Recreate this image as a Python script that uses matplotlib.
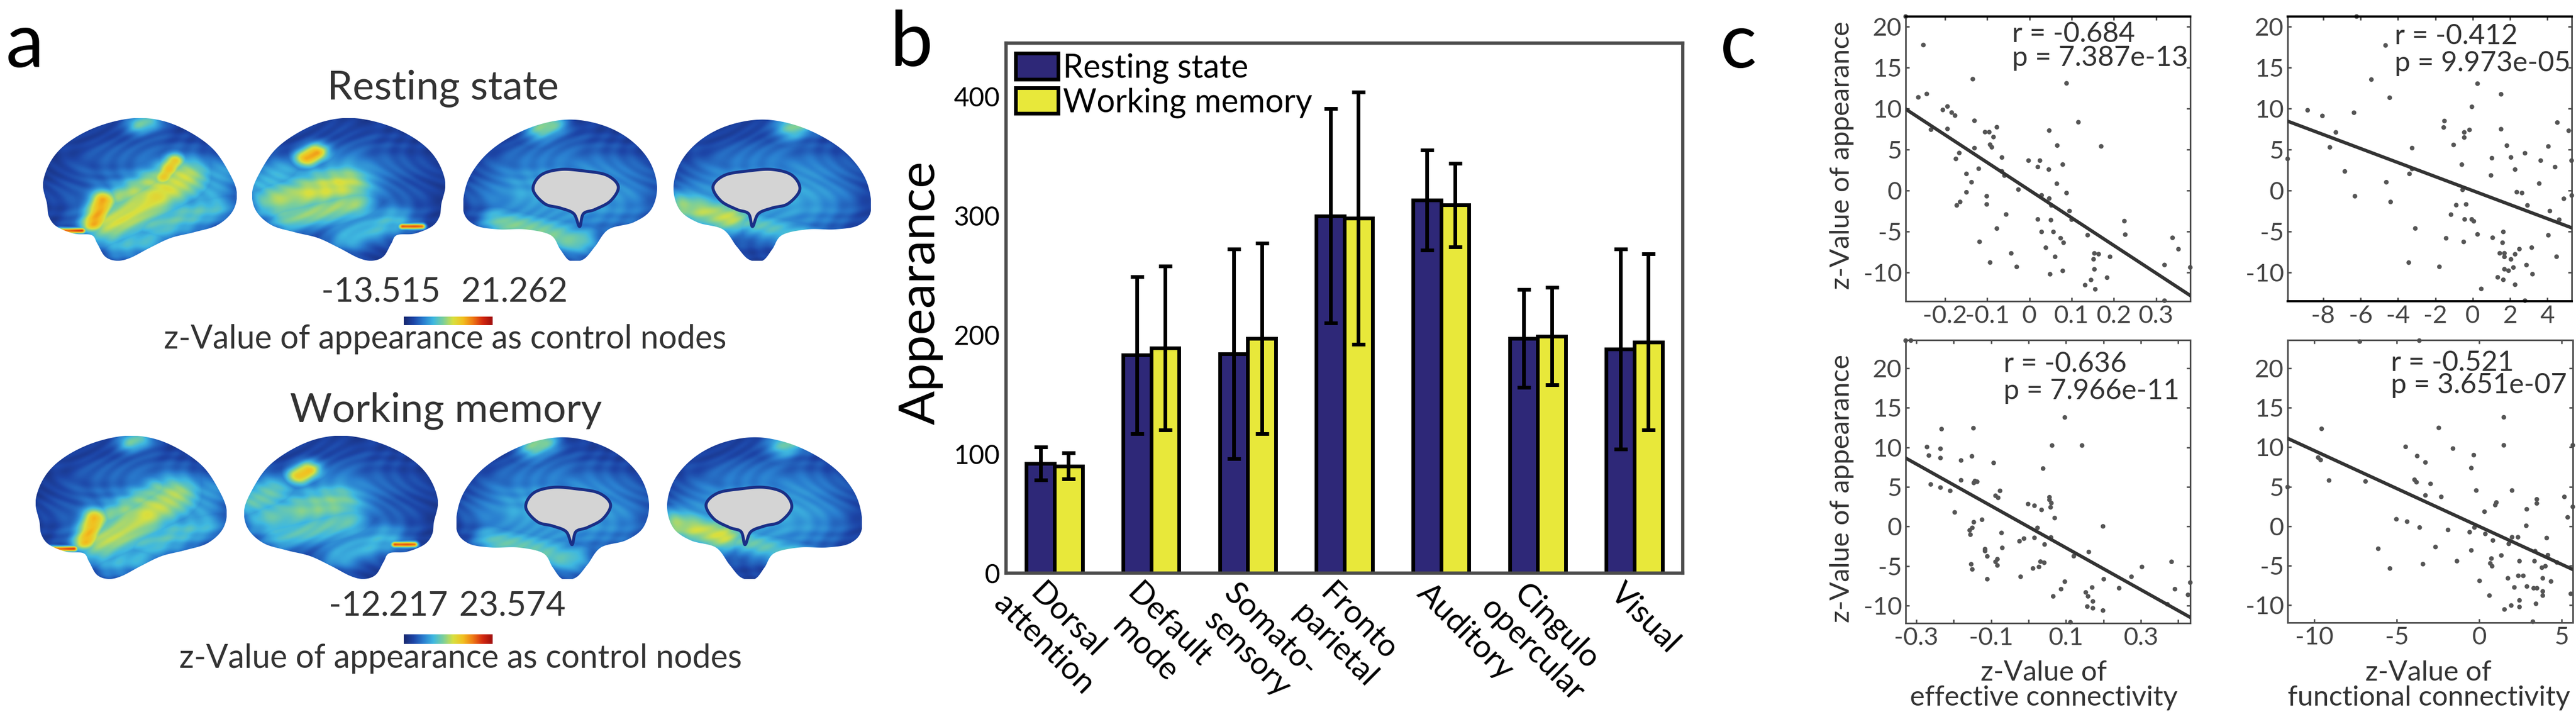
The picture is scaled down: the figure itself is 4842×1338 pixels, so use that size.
import numpy as np
import matplotlib
matplotlib.use('Agg')
import matplotlib.pyplot as plt
from matplotlib.patches import Polygon
from matplotlib.colors import LinearSegmentedColormap
from matplotlib.transforms import ScaledTranslation

plt.rcParams['font.family'] = ['Lato', 'DejaVu Sans']
plt.rcParams['axes.unicode_minus'] = False

W, H, DPI = 4842, 1338, 100

# ---------------- data: panel b ----------------
categories = ["Dorsal\nattention", "Default\nmode", "Somato-\nsensory", "Fronto\nparietal",
              "Auditory", "Cingulo\nopercular", "Visual"]
rs_mean = [92, 183, 184, 300, 313, 197, 188]
rs_err = [14, 66, 88, 90, 42, 41, 84]
wm_mean = [90, 189, 197, 298, 309, 199, 194]
wm_err = [11, 69, 80, 106, 35, 41, 74]
b_yticks = [0, 100, 200, 300, 400]

# ---------------- data: panel a colour ranges ----------------
rs_range = (-13.515, 21.262)
wm_range = (-12.217, 23.574)

# ---------------- data: panel c ----------------
rs_ec = [(-0.293, 21.26), (-0.251, 17.78), (-0.134, 13.61), (0.088, 13.10), (-0.263, 11.39),
         (-0.243, 11.80), (-0.205, 9.85), (-0.194, 10.27), (-0.184, 9.53), (-0.176, 9.16),
         (-0.130, 8.53), (0.116, 8.35), (-0.233, 7.44), (-0.194, 7.53), (-0.077, 7.74),
         (-0.105, 7.14), (-0.095, 7.14), (-0.085, 6.54), (0.047, 7.33), (-0.093, 5.61),
         (-0.089, 5.29), (-0.130, 5.19), (0.066, 5.50), (0.170, 5.40), (-0.166, 4.59),
         (-0.174, 3.87), (-0.065, 4.04), (-0.002, 3.66), (0.025, 3.66), (0.020, 2.88),
         (0.046, 2.57), (0.079, 3.18), (-0.120, 2.67), (-0.065, 2.34), (-0.059, 1.83),
         (-0.149, 2.04), (-0.137, 1.02), (0.065, 0.84), (-0.026, 0.12), (-0.149, -0.21),
         (-0.101, -0.69), (0.088, -0.30), (0.029, -0.58), (0.047, -0.97), (0.052, -1.81),
         (-0.172, -1.81), (-0.164, -1.39), (-0.101, -1.69), (0.095, -2.50), (0.100, -3.55),
         (-0.055, -2.92), (0.020, -3.52), (0.051, -3.61), (0.225, -3.73), (-0.077, -4.64),
         (0.029, -5.05), (0.057, -5.05), (0.227, -5.38), (0.138, -5.45), (0.074, -5.82),
         (0.081, -6.37), (-0.118, -6.26), (0.339, -5.77), (0.039, -6.98), (0.353, -7.16),
         (-0.043, -7.67), (0.154, -7.67), (0.164, -7.77), (0.061, -8.09), (0.191, -8.09),
         (0.152, -8.39), (-0.093, -8.79), (0.320, -9.09), (-0.030, -9.32), (0.381, -9.39),
         (0.154, -9.62), (0.079, -9.81), (0.049, -10.22), (0.184, -10.64), (0.146, -10.92),
         (0.132, -11.55), (0.156, -12.06), (0.320, -13.45)]
rs_fc = [(-6.21, 21.26), (-4.66, 17.73), (-5.42, 13.56), (0.26, 13.06), (1.52, 11.76),
         (-4.44, 11.34), (-8.83, 9.81), (-8.04, 9.12), (-6.35, 9.51), (-0.04, 10.23),
         (-1.51, 8.50), (-1.55, 7.71), (4.53, 8.31), (-7.32, 7.11), (-0.45, 7.11),
         (-0.17, 7.41), (1.52, 7.50), (5.14, 7.31), (-0.45, 6.48), (-7.64, 5.28),
         (-3.24, 5.19), (-1.02, 5.58), (1.83, 5.49), (4.05, 5.39), (2.80, 4.56),
         (-9.90, 3.87), (1.03, 3.96), (2.05, 4.05), (3.64, 3.66), (5.29, 3.66),
         (-0.58, 3.17), (2.27, 2.57), (4.41, 2.87), (-6.84, 2.34), (-3.24, 2.64),
         (-3.38, 2.04), (0.98, 1.85), (-4.62, 1.02), (3.56, 0.86), (-0.54, 0.09),
         (2.36, -0.19), (2.64, -0.30), (-6.30, -0.69), (5.30, -0.60), (4.88, -1.00),
         (-4.39, -1.39), (-0.88, -1.78), (-0.35, -1.69), (2.93, -1.81), (-1.16, -2.94),
         (4.13, -2.50), (-0.43, -3.52), (-0.05, -3.52), (0.06, -3.75), (4.63, -3.56),
         (-3.07, -4.63), (1.64, -5.05), (0.26, -5.35), (4.05, -5.46), (-1.42, -5.83),
         (1.07, -5.76), (-0.48, -6.27), (1.60, -6.37), (2.50, -7.15), (3.16, -6.97),
         (1.45, -7.66), (1.70, -7.66), (1.70, -8.10), (2.27, -7.78), (2.05, -8.40),
         (4.49, -8.08), (-3.42, -8.80), (-1.78, -9.31), (2.88, -9.10), (2.18, -9.40),
         (1.70, -9.61), (1.92, -9.79), (3.20, -10.21), (1.34, -10.60), (1.64, -10.90),
         (2.27, -11.50), (0.46, -12.01), (2.80, -13.45)]
wm_ec = [(-0.328, 23.50), (-0.314, 23.51), (0.097, 13.79), (-0.232, 12.32), (-0.147, 12.43),
         (-0.271, 10.05), (-0.235, 9.83), (0.063, 10.24), (0.143, 10.24), (-0.266, 8.97),
         (-0.235, 8.66), (-0.151, 8.88), (-0.180, 8.35), (-0.093, 8.04), (0.039, 7.33),
         (-0.261, 5.32), (-0.235, 4.92), (-0.180, 5.85), (-0.146, 5.51), (-0.143, 5.75),
         (-0.137, 5.66), (-0.209, 4.51), (-0.076, 4.51), (-0.088, 3.89), (-0.081, 3.63),
         (0.056, 3.70), (0.056, 3.37), (0.061, 2.96), (0.059, 2.43), (-0.001, 2.84),
         (0.016, 2.63), (0.035, 2.10), (-0.197, 1.79), (0.070, 1.07), (-0.124, 0.86),
         (-0.146, 0.55), (0.199, 0.02), (0.024, -0.17), (-0.150, -0.17), (-0.157, -0.48),
         (-0.155, -1.03), (-0.072, -0.81), (0.016, -1.43), (-0.012, -1.53), (-0.024, -1.86),
         (0.060, -1.38), (0.043, -2.27), (-0.116, -2.86), (-0.116, -3.10), (-0.070, -2.70),
         (0.161, -3.22), (0.121, -3.75), (-0.110, -3.77), (-0.083, -4.13), (-0.088, -4.46),
         (-0.083, -4.92), (0.032, -4.44), (0.042, -4.58), (-0.153, -4.77), (-0.150, -5.42),
         (0.012, -5.30), (0.028, -5.11), (0.303, -5.11), (0.382, -4.46), (-0.021, -6.35),
         (0.275, -6.35), (-0.110, -6.66), (0.201, -6.66), (0.097, -6.97), (0.170, -7.71),
         (0.242, -7.80), (0.087, -7.92), (0.391, -7.92), (0.432, -7.09), (0.153, -8.33),
         (0.159, -8.83), (0.066, -8.83), (0.426, -8.64), (0.172, -9.47), (0.157, -10.12),
         (0.172, -10.33), (0.199, -10.62), (0.371, -9.83), (0.112, -12.10)]
wm_fc = [(-7.24, 23.38), (-3.63, 23.50), (1.49, 13.79), (-9.55, 12.33), (-2.45, 12.45),
         (1.49, 10.24), (5.67, 10.24), (-4.46, 10.05), (-1.59, 9.83), (-0.33, 9.00),
         (-3.76, 8.88), (-9.76, 8.69), (-9.61, 8.38), (-3.26, 8.07), (-0.48, 7.36),
         (-9.10, 5.79), (-6.89, 5.67), (-3.92, 5.88), (-3.80, 5.57), (-2.95, 5.36),
         (-11.61, 4.95), (-0.18, 4.52), (1.99, 4.52), (-3.26, 3.90), (-2.30, 3.71),
         (5.16, 3.71), (3.49, 3.40), (3.49, 2.88), (1.04, 3.00), (0.97, 2.67),
         (5.67, 2.45), (2.88, 2.14), (0.32, 1.83), (5.36, 1.12), (-5.02, 0.88),
         (-4.37, 0.57), (2.85, 0.05), (-3.61, -0.17), (-0.29, -0.17), (-1.89, -0.48),
         (-0.58, -0.76), (0.37, -0.98), (1.99, -1.40), (2.35, -1.40), (4.09, -1.50),
         (0.83, -1.81), (1.79, -2.24), (-6.12, -2.86), (-2.65, -2.64), (-0.48, -3.07),
         (3.39, -3.17), (1.34, -3.71), (4.16, -3.67), (0.74, -4.10), (-1.35, -4.43),
         (2.44, -4.43), (3.35, -4.43), (4.71, -4.60), (-3.41, -4.81), (0.67, -4.71),
         (0.78, -5.07), (3.80, -5.26), (4.01, -5.07), (-5.41, -5.36), (2.37, -6.29),
         (2.67, -6.29), (0.02, -6.93), (1.74, -6.60), (3.85, -6.60), (4.35, -7.00),
         (2.13, -7.76), (2.89, -7.64), (3.30, -7.86), (3.50, -7.86), (3.85, -8.26),
         (3.85, -8.79), (5.55, -8.57), (0.62, -8.79), (2.44, -9.40), (3.44, -9.83),
         (1.94, -10.05), (2.44, -10.24), (1.53, -10.55), (3.25, -12.10)]
# fitted lines: (slope, intercept)
fit_rs_ec = (-33.8, 0.05)
fit_rs_fc = (-0.857, -0.01)
fit_wm_ec = (-26.5, -0.04)
fit_wm_fc = (-0.961, -0.04)
stats_rs_ec = ("r = -0.684", "p = 7.387e-13")
stats_rs_fc = ("r = -0.412", "p = 9.973e-05")
stats_wm_ec = ("r = -0.636", "p = 7.966e-11")
stats_wm_fc = ("r = -0.521", "p = 3.651e-07")
xticks_ec_top = [-0.2, -0.1, 0, 0.1, 0.2, 0.3]
xticklabels_ec_top = ["-0.2", "-0.1", "0", "0.1", "0.2", "0.3"]
xticks_fc_top = [-8, -6, -4, -2, 0, 2, 4]
xticks_ec_bot = [-0.3, -0.2, -0.1, 0, 0.1, 0.2, 0.3, 0.4]
xticklabels_ec_bot = ["-0.3", "", "-0.1", "", "0.1", "", "0.3", ""]
xticks_fc_bot = [-10, -5, 0, 5]
c_yticks = [-10, -5, 0, 5, 10, 15, 20]

# ---------------- helpers ----------------
fig = plt.figure(figsize=(W / DPI, H / DPI), dpi=DPI)


def rect(x0, y0, x1, y1):
    return [x0 / W, 1 - y1 / H, (x1 - x0) / W, (y1 - y0) / H]


def fpt(x, y):
    return (x / W, 1 - y / H)


TXT = '#333333'

# ---------------- panel a (rendered cortex pictures) ----------------
brain_cmap = LinearSegmentedColormap.from_list(
    'brain', ['#18276e', '#1d46a8', '#2a7fd0', '#3fb8e0', '#7ccf9a', '#d8e040',
              '#f2c020', '#ef7a15', '#d42a10', '#9e0c0c'])

LATERAL = [(0.02, 0.40), (0.00, 0.55), (0.05, 0.72), (0.15, 0.85), (0.30, 0.95), (0.47, 1.00),
           (0.62, 0.98), (0.76, 0.90), (0.88, 0.78), (0.96, 0.62), (1.00, 0.48), (0.98, 0.35),
           (0.90, 0.25), (0.78, 0.20), (0.66, 0.16), (0.55, 0.09), (0.45, 0.02), (0.38, 0.00),
           (0.32, 0.03), (0.28, 0.12), (0.25, 0.18), (0.16, 0.19), (0.07, 0.24), (0.03, 0.31)]
MEDIAL = [(0.00, 0.35), (0.02, 0.55), (0.10, 0.72), (0.22, 0.85), (0.38, 0.95), (0.55, 0.99),
          (0.72, 0.95), (0.86, 0.85), (0.96, 0.70), (1.00, 0.52), (0.97, 0.36), (0.88, 0.27),
          (0.75, 0.22), (0.68, 0.10), (0.62, 0.01), (0.55, 0.00), (0.50, 0.08), (0.45, 0.18),
          (0.32, 0.22), (0.18, 0.22), (0.06, 0.25)]
HOLE = [(0.36, 0.50), (0.40, 0.60), (0.50, 0.64), (0.62, 0.63), (0.74, 0.60), (0.80, 0.52),
        (0.76, 0.42), (0.68, 0.36), (0.62, 0.33), (0.60, 0.24), (0.57, 0.33), (0.50, 0.37),
        (0.42, 0.40)]


def smooth_closed(pts, n=480):
    P = np.asarray(pts, float)
    m = len(P)
    out = []
    t = np.linspace(0, 1, max(n // m, 4), endpoint=False)[:, None]
    for i in range(m):
        p0, p1, p2, p3 = P[(i - 1) % m], P[i], P[(i + 1) % m], P[(i + 2) % m]
        out.append(0.5 * ((2 * p1) + (-p0 + p2) * t + (2 * p0 - 5 * p1 + 4 * p2 - p3) * t ** 2
                          + (-p0 + 3 * p1 - 3 * p2 + p3) * t ** 3))
    return np.vstack(out)


def seg_dist(xx, yy, x0, y0, x1, y1):
    dx, dy = x1 - x0, y1 - y0
    L2 = dx * dx + dy * dy
    t = np.clip(((xx - x0) * dx + (yy - y0) * dy) / L2, 0, 1) if L2 > 0 else 0.0
    return np.hypot(xx - (x0 + t * dx), yy - (y0 + t * dy))


def draw_brain(box, outline, patches, mirror=False, hole=False):
    ax = fig.add_axes(rect(*box))
    ax.set_xlim(0, 1)
    ax.set_ylim(0, 1)
    ax.axis('off')
    pts = smooth_closed(outline)
    if mirror:
        pts[:, 0] = 1 - pts[:, 0]
    yy, xx = np.mgrid[0:1:300j, 0:1:400j]
    shade = 0.19 - 0.11 * (((xx - 0.5) / 0.5) ** 2 + ((yy - 0.5) / 0.5) ** 2)
    gyri = 0.03 * np.sin(34 * xx + 6 * np.sin(11 * yy)) * np.sin(29 * yy + 5 * np.sin(8 * xx))
    bump = np.zeros_like(xx)
    for x0, y0, x1, y1, wd, amp in patches:
        d = seg_dist(xx, yy, x0, y0, x1, y1)
        bump = np.maximum(bump, amp * np.exp(-d ** 2 / (2 * wd ** 2)))
    field = np.clip(shade + gyri + bump, 0, 1)
    im = ax.imshow(field, extent=(0, 1, 0, 1), origin='lower', cmap=brain_cmap,
                   vmin=0, vmax=1, aspect='auto', interpolation='bilinear')
    patch = Polygon(pts, closed=True, facecolor='none', edgecolor='none')
    ax.add_patch(patch)
    im.set_clip_path(patch)
    if hole:
        hp = smooth_closed(HOLE)
        if mirror:
            hp[:, 0] = 1 - hp[:, 0]
        ax.add_patch(Polygon(hp, closed=True, facecolor='#d4d4d4', edgecolor='#1a2f86', lw=4))


# colour patches on the rendered surfaces: (x0, y0, x1, y1, width, strength)
paint_rs = [
    [(0.34, 0.24, 0.74, 0.58, 0.10, 0.38), (0.40, 0.44, 0.64, 0.62, 0.06, 0.30),
     (0.26, 0.26, 0.31, 0.42, 0.05, 0.55), (0.62, 0.58, 0.68, 0.70, 0.04, 0.46),
     (0.58, 0.24, 0.90, 0.38, 0.08, 0.24), (0.86, 0.40, 0.92, 0.60, 0.09, 0.18),
     (0.50, 0.96, 0.55, 0.98, 0.05, 0.32), (0.08, 0.21, 0.20, 0.21, 0.014, 0.72),
     (0.40, 0.10, 0.55, 0.15, 0.07, 0.22)],
    [(0.12, 0.42, 0.48, 0.54, 0.10, 0.36), (0.18, 0.30, 0.52, 0.40, 0.07, 0.32),
     (0.04, 0.55, 0.12, 0.60, 0.09, 0.22), (0.28, 0.72, 0.33, 0.76, 0.045, 0.55),
     (0.50, 0.16, 0.74, 0.28, 0.07, 0.20), (0.78, 0.24, 0.88, 0.24, 0.014, 0.72)],
    [(0.40, 0.93, 0.45, 0.96, 0.06, 0.35), (0.18, 0.27, 0.60, 0.13, 0.07, 0.30),
     (0.30, 0.45, 0.82, 0.45, 0.18, 0.12)],
    [(0.60, 0.94, 0.65, 0.97, 0.06, 0.35), (0.04, 0.38, 0.28, 0.30, 0.08, 0.38),
     (0.32, 0.28, 0.68, 0.16, 0.06, 0.22), (0.18, 0.45, 0.70, 0.45, 0.18, 0.12)],
]
paint_wm = [
    [(0.34, 0.24, 0.74, 0.58, 0.10, 0.35), (0.40, 0.44, 0.64, 0.62, 0.06, 0.26),
     (0.26, 0.26, 0.31, 0.42, 0.05, 0.52), (0.58, 0.24, 0.90, 0.38, 0.08, 0.22),
     (0.86, 0.40, 0.92, 0.60, 0.09, 0.16), (0.50, 0.96, 0.55, 0.98, 0.05, 0.32),
     (0.08, 0.21, 0.20, 0.21, 0.014, 0.72), (0.40, 0.10, 0.55, 0.15, 0.07, 0.20)],
    [(0.12, 0.42, 0.48, 0.54, 0.10, 0.26), (0.18, 0.30, 0.52, 0.40, 0.07, 0.24),
     (0.04, 0.55, 0.12, 0.60, 0.09, 0.30), (0.28, 0.72, 0.33, 0.76, 0.045, 0.50),
     (0.50, 0.16, 0.74, 0.28, 0.07, 0.18), (0.78, 0.24, 0.88, 0.24, 0.014, 0.72)],
    [(0.40, 0.93, 0.45, 0.96, 0.06, 0.35), (0.18, 0.27, 0.60, 0.13, 0.07, 0.26),
     (0.30, 0.45, 0.82, 0.45, 0.18, 0.12)],
    [(0.60, 0.94, 0.65, 0.97, 0.06, 0.32), (0.04, 0.38, 0.28, 0.30, 0.08, 0.40),
     (0.32, 0.28, 0.68, 0.16, 0.06, 0.24), (0.18, 0.45, 0.70, 0.45, 0.18, 0.12)],
]
rs_boxes = [(81, 222, 445, 490), (474, 222, 837, 490), (871, 222, 1235, 490), (1266, 222, 1637, 490)]
wm_boxes = [(67, 819, 426, 1088), (459, 819, 823, 1088), (858, 819, 1220, 1088), (1254, 819, 1620, 1088)]
kinds = [(LATERAL, False, False), (LATERAL, True, False), (MEDIAL, False, True), (MEDIAL, True, True)]
for boxes, paints in ((rs_boxes, paint_rs), (wm_boxes, paint_wm)):
    for box, (outline, mir, hole), pp in zip(boxes, kinds, paints):
        draw_brain(box, outline, pp, mirror=mir, hole=hole)

fig.text(*fpt(10, 126), 'a', fontsize=104, color='black', va='baseline', ha='left')
fig.text(*fpt(833, 166), 'Resting state', fontsize=55, color=TXT, ha='center', va='center')
fig.text(*fpt(838, 772), 'Working memory', fontsize=55, color=TXT, ha='center', va='center')
grad = np.linspace(0, 1, 256)[None, :]
for (lo, hi), ynum, ybar, ylab, xl, xr, xlab in (
        (rs_range, 550, (595, 611), 638, 716, 967, 837),
        (wm_range, 1139, (1192, 1210), 1237, 730, 963, 866)):
    fig.text(*fpt(xl, ynum), f"{lo:.3f}", fontsize=46, color=TXT, ha='center', va='center')
    fig.text(*fpt(xr, ynum), f"{hi:.3f}", fontsize=46, color=TXT, ha='center', va='center')
    cax = fig.add_axes(rect(759, ybar[0], 926, ybar[1]))
    cax.imshow(grad, aspect='auto', cmap=brain_cmap, extent=(lo, hi, 0, 1))
    cax.axis('off')
    fig.text(*fpt(xlab, ylab), 'z-Value of appearance as control nodes', fontsize=44, color=TXT,
             ha='center', va='center')

# ---------------- panel b ----------------
axb = fig.add_axes(rect(1891, 81, 3163, 1077))
x = np.arange(len(categories))
bw = 0.29
RS_C, WM_C = '#2e2878', '#e8e83a'
b1 = axb.bar(x - bw / 2, rs_mean, bw, color=RS_C, edgecolor='black', linewidth=5, zorder=2)
b2 = axb.bar(x + bw / 2, wm_mean, bw, color=WM_C, edgecolor='black', linewidth=5, zorder=2)
axb.errorbar(x - bw / 2, rs_mean, yerr=rs_err, fmt='none', ecolor='black', elinewidth=5,
             capsize=9, capthick=5, zorder=3)
axb.errorbar(x + bw / 2, wm_mean, yerr=wm_err, fmt='none', ecolor='black', elinewidth=5,
             capsize=9, capthick=5, zorder=3)
axb.set_xlim(-0.5, 6.5)
axb.set_ylim(0, 445)
axb.set_yticks(b_yticks)
axb.tick_params(axis='y', length=0, pad=8, labelsize=36, labelcolor='black')
axb.set_xticks(x)
XT_FS = 43
axb.set_xticklabels(categories, rotation=-45, ha='left', va='top', rotation_mode='anchor',
                    multialignment='center', fontsize=XT_FS)
axb.tick_params(axis='x', length=0, pad=0)
# first line of each label starts just left of the group centre; second line centred under it
renderer = fig.canvas.get_renderer()
for lbl in axb.get_xticklabels():
    lines = lbl.get_text().split('\n')
    widths = []
    for ln in lines:
        t = fig.text(0, 0, ln, fontsize=XT_FS)
        widths.append(t.get_window_extent(renderer).width)
        t.remove()
    s = (max(widths) - widths[0]) / 2.0
    dx = -17 - 0.707 * s
    dy = -10 + 0.707 * s
    lbl.set_transform(lbl.get_transform() + ScaledTranslation(dx / DPI, dy / DPI, fig.dpi_scale_trans))
for s_ in axb.spines.values():
    s_.set_color('#4d4d4d')
    s_.set_linewidth(4.5)
axb.legend([b1, b2], ['Resting state', 'Working memory'], loc='upper left', bbox_to_anchor=(0.0, 1.0),
           frameon=False, fontsize=44, handlelength=1.3, handleheight=0.85, handletextpad=0.15,
           labelspacing=0.12, borderaxespad=0.1, borderpad=0.2)
fig.text(*fpt(1731, 550), 'Appearance', fontsize=68, rotation=90, ha='center', va='center', color='black')
fig.text(*fpt(1673, 124), 'b', fontsize=104, color='black', va='baseline', ha='left')

# ---------------- panel c ----------------
GRAY = '#4d4d4d'
c_specs = [
    ((3582, 31, 4117, 566), rs_ec, fit_rs_ec, stats_rs_ec, rs_range, xticks_ec_top, xticklabels_ec_top,
     (0.374, 0.910, 0.826), ('top',)),
    ((4300, 31, 4834, 566), rs_fc, fit_rs_fc, stats_rs_fc, rs_range, xticks_fc_top, None,
     (0.376, 0.903, 0.808), ('top', 'bottom')),
    ((3582, 639, 4117, 1171), wm_ec, fit_wm_ec, stats_wm_ec, wm_range, xticks_ec_bot, xticklabels_ec_bot,
     (0.343, 0.888, 0.791), ()),
    ((4300, 639, 4836, 1170), wm_fc, fit_wm_fc, stats_wm_fc, wm_range, xticks_fc_bot, None,
     (0.362, 0.891, 0.811), ()),
]
for box, pts, (slope, icpt), (rtxt, ptxt), ylim, xt, xtl, (tx, ry, py), dark in c_specs:
    ax = fig.add_axes(rect(*box))
    px_, py_ = zip(*pts)
    ax.scatter(px_, py_, s=40, color='#555555', edgecolors='none', zorder=2, clip_on=False)
    x0, x1 = min(px_), max(px_)
    ax.plot([x0, x1], [slope * x0 + icpt, slope * x1 + icpt], color='#333333', lw=4.6, zorder=3)
    ax.set_xlim(x0, x1)
    ax.set_ylim(*ylim)
    ax.set_yticks(c_yticks)
    ax.set_xticks(xt)
    if xtl is not None:
        ax.set_xticklabels(xtl)
    ax.tick_params(direction='in', length=5, width=2, color=GRAY, top=True, right=True,
                   labelsize=34, labelcolor='#444444', pad=5)
    for name, s_ in ax.spines.items():
        s_.set_color('black' if name in dark else GRAY)
        s_.set_linewidth(3.0 if name in dark else 2.2)
    ax.text(tx, ry, rtxt, transform=ax.transAxes, fontsize=38, color=TXT, va='baseline', ha='left')
    ax.text(tx, py, ptxt, transform=ax.transAxes, fontsize=38, color=TXT, va='baseline', ha='left')

fig.text(*fpt(3462, 292), 'z-Value of appearance', fontsize=37, rotation=90, ha='center', va='center', color=TXT)
fig.text(*fpt(3462, 918), 'z-Value of appearance', fontsize=37, rotation=90, ha='center', va='center', color=TXT)
fig.text(*fpt(3842, 1288), 'z-Value of\neffective connectivity', fontsize=38, ha='center', va='center',
         color=TXT, linespacing=1.0)
fig.text(*fpt(4565, 1288), 'z-Value of\nfunctional connectivity', fontsize=38, ha='center', va='center',
         color=TXT, linespacing=1.0)
fig.text(*fpt(3233, 127), 'c', fontsize=104, color='black', va='baseline', ha='left')

fig.savefig('out.png', dpi=DPI)
